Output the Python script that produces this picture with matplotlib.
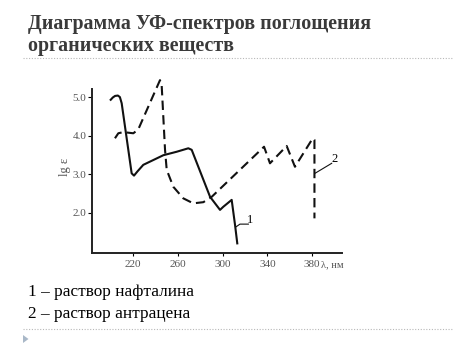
import matplotlib
matplotlib.use("Agg")
import matplotlib.pyplot as plt
from matplotlib.lines import Line2D

# curve 1 - naphthalene (solid)
wl_naph = [200.1, 202.0, 204.0, 206.5, 208.3, 209.9, 218.8, 220.9, 224.0, 229.2,
           247.1, 259.0, 269.4, 272.4, 288.8, 297.7, 300.6, 308.1, 311.1, 313.1]
lg_naph = [4.94, 5.00, 5.04, 5.05, 5.01, 4.85, 3.03, 2.97, 3.08, 3.25,
           3.50, 3.59, 3.68, 3.64, 2.42, 2.08, 2.16, 2.34, 1.69, 1.21]

# curve 2 - anthracene (dashed)
wl_anth = [203.9, 206.9, 211.3, 220.3, 224.7, 244.1, 245.6, 248.6, 250.1, 256.0,
           264.9, 273.8, 282.8, 290.3, 337.0, 342.3, 357.2, 364.6, 380.5, 382.0, 382.0]
lg_anth = [3.94, 4.07, 4.10, 4.07, 4.17, 5.45, 5.32, 3.64, 3.12, 2.68,
           2.38, 2.25, 2.28, 2.42, 3.72, 3.29, 3.74, 3.20, 3.94, 3.90, 1.86]

x_ticks = [220, 260, 300, 340, 380]
y_ticks = [2.0, 3.0, 4.0, 5.0]
y_tick_labels = ["2.0", "3.0", "4.0", "5.0"]

W, H = 474, 355
fig = plt.figure(figsize=(W / 100, H / 100), dpi=100)
fig.patch.set_facecolor("white")

def fx(px):
    return px / W

def fy(py):
    return 1 - py / H

# title
title_col = "#3a3a3a"
fig.text(fx(28), fy(29), "Диаграмма УФ-спектров поглощения", fontsize=14.4,
         fontweight="bold", family="Liberation Serif", color=title_col, va="baseline")
fig.text(fx(28), fy(51), "органических веществ", fontsize=14.4,
         fontweight="bold", family="Liberation Serif", color=title_col, va="baseline")

# dotted separators
for yy in (58, 329):
    fig.add_artist(Line2D([fx(23), fx(453)], [fy(yy), fy(yy)], color="#b8b8b8",
                          lw=0.8, ls=(0, (1, 1.5))))

# small bullet triangle
fig.add_artist(plt.Polygon([[fx(23), fy(335)], [fx(23), fy(343)], [fx(28.5), fy(339)]],
                           closed=True, color="#a9b8c8", lw=0))

# legend text below chart
fig.text(fx(28), fy(296), "1 – раствор нафталина", fontsize=12.4,
         family="Liberation Serif", color="black", va="baseline")
fig.text(fx(28), fy(318), "2 – раствор антрацена", fontsize=12.4,
         family="Liberation Serif", color="black", va="baseline")

# chart
ax = fig.add_axes([fx(92), fy(253), fx(342) - fx(92), fy(89) - fy(253)])
ax.patch.set_alpha(0)
ax.plot(wl_naph, lg_naph, color="#111111", lw=1.5, solid_joinstyle="round", clip_on=False)
ax.plot(wl_anth, lg_anth, color="#111111", lw=1.5, ls=(0, (4.5, 2.5)), clip_on=False)

ax.set_xlim(183.4, 406.6)
ax.set_ylim(0.96, 5.22)
for s in ("top", "right"):
    ax.spines[s].set_visible(False)
for s in ("left", "bottom"):
    ax.spines[s].set_linewidth(1.4)
    ax.spines[s].set_color("#222222")

ax.set_xticks(x_ticks)
ax.set_yticks(y_ticks)
ax.set_yticklabels(y_tick_labels)
ax.tick_params(axis="x", length=2, width=0.8, pad=3, labelsize=8, labelcolor="#555555")
ax.tick_params(axis="y", length=3, width=0.8, pad=1, labelsize=8, labelcolor="#555555")
for lab in ax.get_xticklabels() + ax.get_yticklabels():
    lab.set_family("Liberation Serif")

ax.text(65, fig.bbox.height - 167, "lg ε", transform=None, fontsize=9,
        family="Liberation Serif", color="#555555", rotation=90, ha="center", va="center")
ax.text(321, fig.bbox.height - 265, "λ, нм", transform=None, fontsize=7.5,
        family="Liberation Serif", color="#555555", ha="left", va="center")

# curve labels with leaders
ax.plot([312.0, 315.5, 323.0], [1.64, 1.71, 1.71], color="#111111", lw=0.8)
ax.text(324.5, 1.82, "1", fontsize=9, family="Liberation Serif", ha="center", va="center")
ax.plot([382.5, 397.4], [3.03, 3.29], color="#111111", lw=0.8)
ax.text(400.0, 3.40, "2", fontsize=9, family="Liberation Serif", ha="center", va="center")

fig.savefig("out.png", dpi=100)
